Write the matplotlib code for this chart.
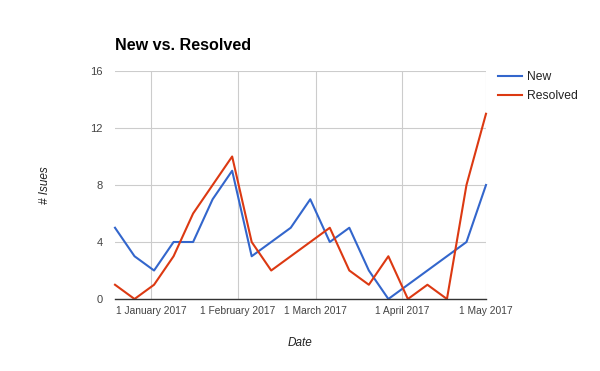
import matplotlib
matplotlib.use("Agg")
import matplotlib.pyplot as plt
import datetime as dt

plt.rcParams['font.family'] = ['Liberation Sans', 'DejaVu Sans']

start = dt.date(2016, 12, 19)
dates = [start + dt.timedelta(days=7 * i) for i in range(20)]
new = [5, 3, 2, 4, 4, 7, 9, 3, 4, 5, 7, 4, 5, 2, 0, 1, 2, 3, 4, 8]
resolved = [1, 0, 1, 3, 6, 8, 10, 4, 2, 3, 4, 5, 2, 1, 3, 0, 1, 0, 8, 13]
yticks = [0, 4, 8, 12, 16]
month_ticks = [dt.date(2017, 1, 1), dt.date(2017, 2, 1), dt.date(2017, 3, 1),
               dt.date(2017, 4, 1), dt.date(2017, 5, 1)]
month_labels = ['1 January 2017', '1 February 2017', '1 March 2017',
                '1 April 2017', '1 May 2017']

fig = plt.figure(figsize=(6, 3.71), dpi=100)
ax = fig.add_axes([115/600, 1 - 299/371, (486 - 115)/600, (299 - 71)/371])

ax.plot(dates, new, color='#3366cc', lw=1.5, label='New', zorder=3, clip_on=False)
ax.plot(dates, resolved, color='#dc3912', lw=1.5, label='Resolved', zorder=3, clip_on=False)

ax.set_xlim(dates[0], dates[-1])
ax.set_ylim(0, 16)
ax.set_yticks(yticks)
ax.set_xticks(month_ticks)
ax.set_xticklabels(month_labels)
ax.grid(True, color='#cccccc', lw=0.8, zorder=0)
for s in ['top', 'right', 'left']:
    ax.spines[s].set_visible(False)
ax.spines['bottom'].set_color('#333333')
ax.spines['bottom'].set_linewidth(1.0)
ax.spines['bottom'].set_zorder(4)
ax.tick_params(axis='y', length=0, labelsize=8, colors='#444444', pad=9)
ax.tick_params(axis='x', length=0, labelsize=7.4, colors='#444444', pad=5)

fig.text(300/600, 1 - 343/371, 'Date', fontsize=8.5, style='italic', color='#222222',
         ha='center', va='center')
fig.text(45/600, 1 - 185/371, '# Isues', fontsize=8.5, style='italic', color='#222222',
         ha='center', va='center', rotation=90)

fig.text(115/600, 1 - 45/371, 'New vs. Resolved', fontsize=11.6, fontweight='bold',
         ha='left', va='center', color='#000000')

leg = ax.legend(loc='upper left', bbox_to_anchor=(498/600, 1 - 71/371),
                bbox_transform=fig.transFigure,
                frameon=False, borderaxespad=0, borderpad=0,
                fontsize=8.7, handlelength=2.0, handletextpad=0.4, labelspacing=0.6)
for t in leg.get_texts():
    t.set_color('#222222')

fig.savefig('out.png', dpi=100)
